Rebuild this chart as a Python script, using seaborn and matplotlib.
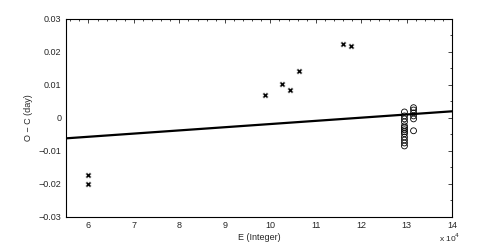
import numpy as np
import pandas as pd
import seaborn as sns
import matplotlib.pyplot as plt
from matplotlib.ticker import MultipleLocator

# ---------------------------------------------------------
# Daten (E in Einheiten von 10^4)
# ---------------------------------------------------------
cross_E = [6.0, 6.0, 9.88, 10.25, 10.44, 10.64, 11.60, 11.77]
cross_oc = [-0.0173, -0.0201, 0.0070, 0.0103, 0.0085, 0.0142, 0.0225, 0.0217]

circle_E = [12.95] * 13 + [13.15] * 6
circle_oc = [0.0018, 0.0006, -0.0003, -0.0012, -0.0024, -0.0030, -0.0036,
             -0.0042, -0.0048, -0.0058, -0.0067, -0.0076, -0.0085,
             0.0031, 0.0024, 0.0015, 0.0006, -0.0003, -0.0039]

fit_E = [5.5, 14.0]
fit_oc = [-0.0062, 0.0020]

df_cross = pd.DataFrame({"E": cross_E, "OC": cross_oc})
df_circle = pd.DataFrame({"E": circle_E, "OC": circle_oc})
df_fit = pd.DataFrame({"E": fit_E, "OC": fit_oc})

sns.set_style("white")
plt.rcParams["font.family"] = ["Liberation Sans", "DejaVu Sans"]
plt.rcParams["font.size"] = 6.5

fig, ax = plt.subplots(figsize=(4.98, 2.49), dpi=100)
fig.subplots_adjust(left=0.132, right=0.908, top=0.924, bottom=0.129)

sns.lineplot(data=df_fit, x="E", y="OC", ax=ax, color="black", lw=1.6)
sns.scatterplot(data=df_circle, x="E", y="OC", ax=ax, marker="o",
                facecolor="none", edgecolor="black", s=18, linewidth=0.6)
sns.scatterplot(data=df_cross, x="E", y="OC", ax=ax, marker="X",
                color="black", s=18, linewidth=0.3)

ax.set_xlim(5.5, 14)
ax.set_ylim(-0.03, 0.03)
ax.xaxis.set_major_locator(MultipleLocator(1))
ax.xaxis.set_minor_locator(MultipleLocator(0.2))
ax.yaxis.set_minor_locator(MultipleLocator(0.005))
ax.set_yticks([-0.03, -0.02, -0.01, 0, 0.01, 0.02, 0.03])
ax.set_yticklabels(["\u22120.03", "\u22120.02", "\u22120.01", "0", "0.01", "0.02", "0.03"])

ax.tick_params(which="both", direction="in", top=True, right=True,
               labelsize=6.5, width=0.6, pad=3)
ax.tick_params(which="major", length=3)
ax.tick_params(which="minor", length=1.5)
for sp in ax.spines.values():
    sp.set_linewidth(0.8)
    sp.set_color("black")

ax.set_xlabel("E (Integer)", fontsize=6.5, labelpad=2)
ax.set_ylabel("O \u2212 C (day)", fontsize=6.5, labelpad=4)
ax.text(1.02, -0.075, "x 10$^4$", transform=ax.transAxes, fontsize=6,
        ha="right", va="top")

plt.savefig("out.png", dpi=100)
